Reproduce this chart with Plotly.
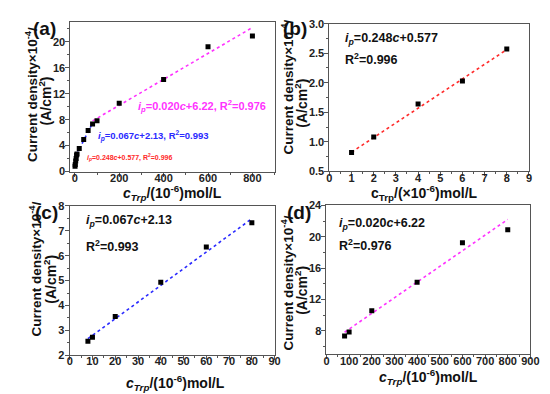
import plotly.graph_objects as go

# ---------------- data ----------------
conc_b = [1, 2, 4, 6, 8]
curr_b = [0.82, 1.08, 1.64, 2.03, 2.57]
conc_c = [8, 10, 20, 40, 60, 80]
curr_c = [2.56, 2.72, 3.56, 4.93, 6.35, 7.33]
conc_d = [80, 100, 200, 400, 600, 800]
curr_d = [7.33, 7.85, 10.55, 14.2, 19.25, 20.9]

fit_b = (0.248, 0.577)
fit_c = (0.067, 2.13)
fit_d = (0.020, 6.22)

W, H = 550, 394

def px(x):
    return x / W

def py(y):
    return 1 - y / H

FONT = "Liberation Sans, Arial, sans-serif"
AXC = "#555555"
COL_B = "#ff2a2a"
COL_C = "#2a2aff"
COL_D = "#ff33ff"

fig = go.Figure()

# axes domains (pixels)
panels = {
    "a": dict(x=(60.7, 269.5), y=(8.7, 162.5), xr=[-20, 900], yr=[0, 23],
              xd=200, xm=100, yd=4, ym=2, yf="d"),
    "b": dict(x=(325.5, 529.5), y=(10, 162.3), xr=[0, 9], yr=[0.5, 3.0],
              xd=1, xm=0.5, yd=0.5, ym=0.25, yf=".1f"),
    "c": dict(x=(60, 269.5), y=(198, 352), xr=[0, 90], yr=[2, 8],
              xd=10, xm=5, yd=1, ym=0.5, yf="d"),
    "d": dict(x=(322.5, 531), y=(197.5, 351), xr=[0, 900], yr=[5, 24],
              xd=100, xm=50, yd=4, ym=2, yf="d"),
}
order = ["a", "b", "c", "d"]

layout = {}
for i, k in enumerate(order):
    p = panels[k]
    sx = "" if i == 0 else str(i + 1)
    common = dict(
        showline=True, linecolor=AXC, linewidth=1, mirror=True,
        ticks="outside", ticklen=4, tickcolor=AXC, tickwidth=1,
        showgrid=False, zeroline=False,
        tickfont=dict(family=FONT, size=11, color="#222222", weight="bold"),
        minor=dict(ticks="outside", ticklen=2, tickcolor=AXC, showgrid=False),
    )
    layout["xaxis" + sx] = dict(
        domain=[px(p["x"][0]), px(p["x"][1])], range=p["xr"],
        anchor="y" + sx, dtick=p["xd"], tick0=0, ticklabelstandoff=-8,
        minor_dtick=p["xm"], **common)
    layout["yaxis" + sx] = dict(
        domain=[py(p["y"][1]), py(p["y"][0])], range=p["yr"],
        anchor="x" + sx, dtick=p["yd"], tick0=0, tickformat=p["yf"],
        ticklabelstandoff=-2,
        minor_dtick=p["ym"], **common)

def fit_line(conc, coef):
    xs = [conc[0], conc[-1]]
    return xs, [coef[0] * v + coef[1] for v in xs]

def add_fit(conc, coef, color, ax):
    xs, ys = fit_line(conc, coef)
    fig.add_trace(go.Scatter(x=xs, y=ys, mode="lines", xaxis=ax[0], yaxis=ax[1],
                             line=dict(color=color, width=1.6, dash="dot"),
                             showlegend=False, hoverinfo="skip"))

def add_pts(conc, curr, ax):
    fig.add_trace(go.Scatter(x=conc, y=curr, mode="markers", xaxis=ax[0], yaxis=ax[1],
                             marker=dict(symbol="square", size=5, color="black"),
                             showlegend=False))

# panel (a)
add_fit(conc_b, fit_b, COL_B, ("x", "y"))
add_fit(conc_c, fit_c, COL_C, ("x", "y"))
add_fit(conc_d, fit_d, COL_D, ("x", "y"))
conc_a = conc_b + conc_c[1:] + conc_d[1:]
curr_a = curr_b + curr_c[1:] + curr_d[1:]
add_pts(conc_a, curr_a, ("x", "y"))
# panel (b)
add_fit(conc_b, fit_b, COL_B, ("x2", "y2"))
add_pts(conc_b, curr_b, ("x2", "y2"))
# panel (c)
add_fit(conc_c, fit_c, COL_C, ("x3", "y3"))
add_pts(conc_c, curr_c, ("x3", "y3"))
# panel (d)
add_fit(conc_d, fit_d, COL_D, ("x4", "y4"))
add_pts(conc_d, curr_d, ("x4", "y4"))

ann = []

def text(x, y, s, size, color="#111111", xanchor="left", angle=0):
    ann.append(dict(x=px(x), y=py(y), xref="paper", yref="paper", text=s,
                    showarrow=False, xanchor=xanchor, yanchor="middle",
                    textangle=angle,
                    font=dict(family=FONT, size=size, color=color, weight="bold")))

def eq_only(coef):
    return "<i>i</i><sub><i>p</i></sub>=%.3f<i>c</i>+%g" % coef

# panel labels
text(20, 15, "(a)", 19)
text(276, 15, "(b)", 19)
text(22, 205, "(c)", 19)
text(280, 205, "(d)", 19)

# y titles
ytitle1 = "Current density×10<sup>-4</sup>/"
ytitle2 = "(A/cm<sup>2</sup>)"
for (x1, y1, x2, y2) in [(21, 83, 35, 90), (282, 75, 297, 92),
                         (25, 263, 40, 274), (282, 277, 297, 285)]:
    text(x1, y1, ytitle1, 13.5, xanchor="center", angle=-90)
    text(x2, y2, ytitle2, 14, xanchor="center", angle=-90)

# x titles
xt_it = "<i>c</i><sub><i>Trp</i></sub>/(10<sup>-6</sup>)mol/L"
xt_b = "c<sub>Trp</sub>/(×10<sup>-6</sup>)mol/L"
text(165, 185, xt_it, 14, xanchor="center")
text(423, 185, xt_b, 14, xanchor="center")
text(168, 381, xt_it, 14, xanchor="center")
text(427, 374, xt_it, 14, xanchor="center")

# equations in (a)
text(128, 95, "<i>i</i><sub><i>p</i></sub>=0.020<i>c</i>+6.22, R<sup>2</sup>=0.976", 11, COL_D)
text(87, 126, "<i>i</i><sub><i>p</i></sub>=0.067<i>c</i>+2.13, R<sup>2</sup>=0.993", 9.5, COL_C)
text(76, 148, "<i>i</i><sub><i>p</i></sub>=0.248<i>c</i>+0.577, R<sup>2</sup>=0.996", 7, COL_B)

# equations in (b),(c),(d)
text(339, 26, eq_only(fit_b), 12.5)
text(339, 46, "R<sup>2</sup>=0.996", 12.5)
text(75, 214, eq_only(fit_c), 12.5)
text(75, 239, "R<sup>2</sup>=0.993", 12.5)
text(333, 217, "<i>i</i><sub><i>p</i></sub>=0.020<i>c</i>+6.22", 12.5)
text(333, 238, "R<sup>2</sup>=0.976", 12.5)

fig.update_layout(
    width=W, height=H, margin=dict(l=0, r=0, t=0, b=0),
    paper_bgcolor="white", plot_bgcolor="white",
    annotations=ann, **layout,
)

fig.write_html("out.html")
